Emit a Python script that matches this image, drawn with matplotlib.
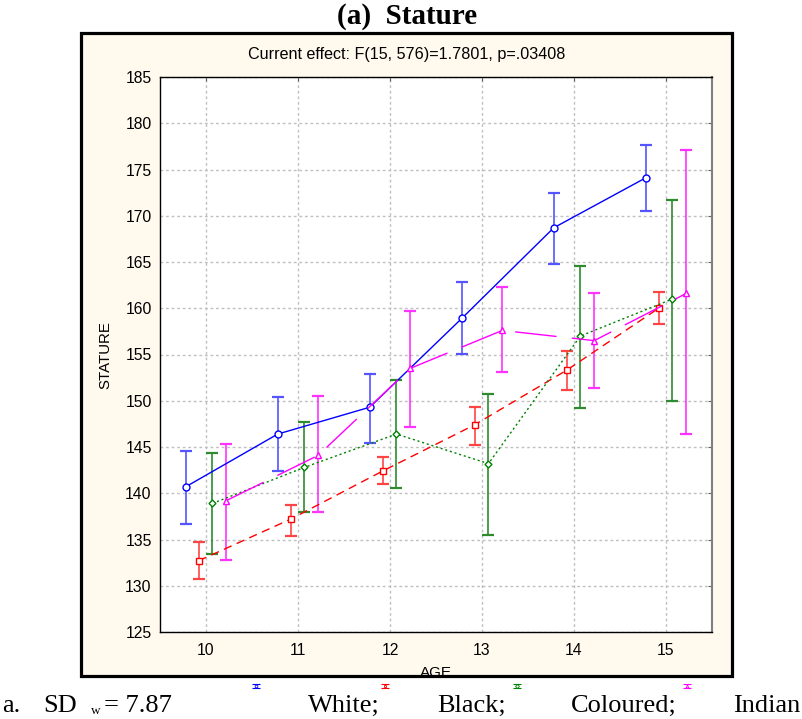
import matplotlib
matplotlib.use("Agg")
import matplotlib.pyplot as plt
from matplotlib.patches import Rectangle
import numpy as np

ages = [10, 11, 12, 13, 14, 15]
groups = ["White", "Black", "Coloured", "Indian"]

white_mean = [140.7, 146.4, 149.3, 158.9, 168.7, 174.1]
white_low = [136.7, 142.4, 145.4, 155.1, 164.8, 170.5]
white_high = [144.6, 150.4, 152.9, 162.8, 172.5, 177.6]

black_mean = [132.7, 137.2, 142.4, 147.4, 153.3, 160.0]
black_low = [130.7, 135.4, 141.0, 145.2, 151.2, 158.3]
black_high = [134.7, 138.7, 143.9, 149.3, 155.4, 161.8]

coloured_mean = [138.9, 142.8, 146.4, 143.2, 157.0, 161.0]
coloured_low = [133.4, 138.0, 140.6, 135.5, 149.2, 150.0]
coloured_high = [144.4, 147.7, 152.2, 150.7, 164.6, 171.7]

indian_mean = [139.2, 144.1, 153.5, 157.6, 156.5, 161.6]
indian_low = [132.8, 138.0, 147.2, 153.1, 151.4, 146.4]
indian_high = [145.3, 150.5, 159.7, 162.3, 161.6, 177.1]

means = [white_mean, black_mean, coloured_mean, indian_mean]
lows = [white_low, black_low, coloured_low, indian_low]
highs = [white_high, black_high, coloured_high, indian_high]

offsets = [-0.22, -0.08, 0.07, 0.22]
colors = ["#0000ff", "#ff0000", "#008000", "#ff00ff"]
ecolors = ["#5555ff", "#ff4444", "#2e8b2e", "#ff33ff"]
markers = ["o", "s", "D", "^"]
msizes = [5, 5, 3.5, 5]
lstyles = ["-", (0, (6, 4)), (0, (1.5, 2)), (0, (30, 11))]

sans = "Liberation Sans"
serif = "Liberation Serif"

fig = plt.figure(figsize=(8.03, 7.19), dpi=100)

# cream panel behind the plot
panel = Rectangle((81 / 803, 1 - 676 / 719), 651 / 803, 643 / 719,
                  transform=fig.transFigure, facecolor="#FFF9EE",
                  edgecolor="none", zorder=-5)
fig.patches.append(panel)
border = Rectangle((81 / 803, 1 - 676 / 719), 651 / 803, 643 / 719,
                   transform=fig.transFigure, facecolor="none",
                   edgecolor="black", linewidth=2.3, zorder=10)
fig.patches.append(border)

ax = fig.add_axes([160 / 803, 1 - 632 / 719, 552 / 803, 555 / 719])
ax.set_facecolor("white")

for i in range(4):
    x = np.array(ages) + offsets[i]
    m = np.array(means[i])
    err = [m - np.array(lows[i]), np.array(highs[i]) - m]
    ax.errorbar(x, m, yerr=err, fmt="none", ecolor=ecolors[i],
                elinewidth=1.2, capsize=4, capthick=1.6, zorder=3)
    ax.plot(x, m, color=colors[i], linestyle=lstyles[i], linewidth=1,
            marker=markers[i], markersize=msizes[i], markerfacecolor="white",
            markeredgecolor=colors[i], markeredgewidth=1, zorder=4)

ax.set_xlim(9.5, 15.5)
ax.set_ylim(125, 185)
ax.set_xticks(ages)
ax.set_yticks(np.arange(125, 186, 5))
ax.grid(True, color="#c0c0c0", linestyle=(0, (2, 2)), linewidth=1)
ax.set_axisbelow(True)
ax.tick_params(axis="both", labelsize=11.3, length=0)
ax.tick_params(axis="x", pad=8)
ax.tick_params(axis="y", pad=6)
ax.tick_params(top=True, right=True, direction="in", length=3, color="#606060")
ax.tick_params(left=False, bottom=False)
for lab in ax.get_xticklabels() + ax.get_yticklabels():
    lab.set_fontfamily(sans)
for s in ["left", "bottom", "top"]:
    ax.spines[s].set_linewidth(1)
ax.spines["right"].set_color("#808080")
ax.spines["right"].set_linewidth(1.5)

fig.text(105 / 803, 1 - 355 / 719, "STATURE", rotation=90, ha="center",
         va="center", fontsize=10.8, fontfamily=sans)
age_lbl = fig.text(436 / 803, 1 - 666 / 719, "AGE", ha="center", va="top",
                   fontsize=11, fontfamily=sans, zorder=5)
age_lbl.set_clip_path(panel)

fig.text(407 / 803, 1 - 55 / 719, "Current effect: F(15, 576)=1.7801, p=.03408",
         ha="center", va="center", fontsize=11.6, fontfamily=sans)
fig.text(407 / 803, 1 - 16 / 719, "(a)  Stature", ha="center", va="center",
         fontsize=21, fontweight="bold", fontfamily=serif)

# footer: caption with tiny legend glyphs
lax = fig.add_axes([0, 0, 1, 1], facecolor="none")
lax.set_xlim(0, 803)
lax.set_ylim(719, 0)
lax.axis("off")
glyph_x = [256, 385, 517, 687]
for i in range(4):
    lax.errorbar([glyph_x[i]], [686], yerr=[[1.8], [1.8]], fmt="none",
                 ecolor=colors[i], elinewidth=0.8, capsize=3, capthick=0.8)
    lax.plot([glyph_x[i]], [686], marker=markers[i], markersize=2,
             markerfacecolor="white", markeredgecolor=colors[i],
             markeredgewidth=0.6)

lax.text(2, 712, "a.", fontsize=19, fontfamily=serif, va="baseline")
lax.text(77, 712, "SD", fontsize=19, fontfamily=serif, va="baseline", ha="right")
lax.text(91, 714, "w", fontsize=9.5, fontfamily=serif, va="baseline")
lax.text(104, 712, "= 7.87", fontsize=19, fontfamily=serif, va="baseline")
cap_x = [308, 437, 571, 733]
cap_txt = ["White;", "Black;", "Coloured;", "Indian"]
for cx, t in zip(cap_x, cap_txt):
    lax.text(cx, 712, t, fontsize=19, fontfamily=serif, va="baseline")

fig.savefig("out.png", dpi=100)
